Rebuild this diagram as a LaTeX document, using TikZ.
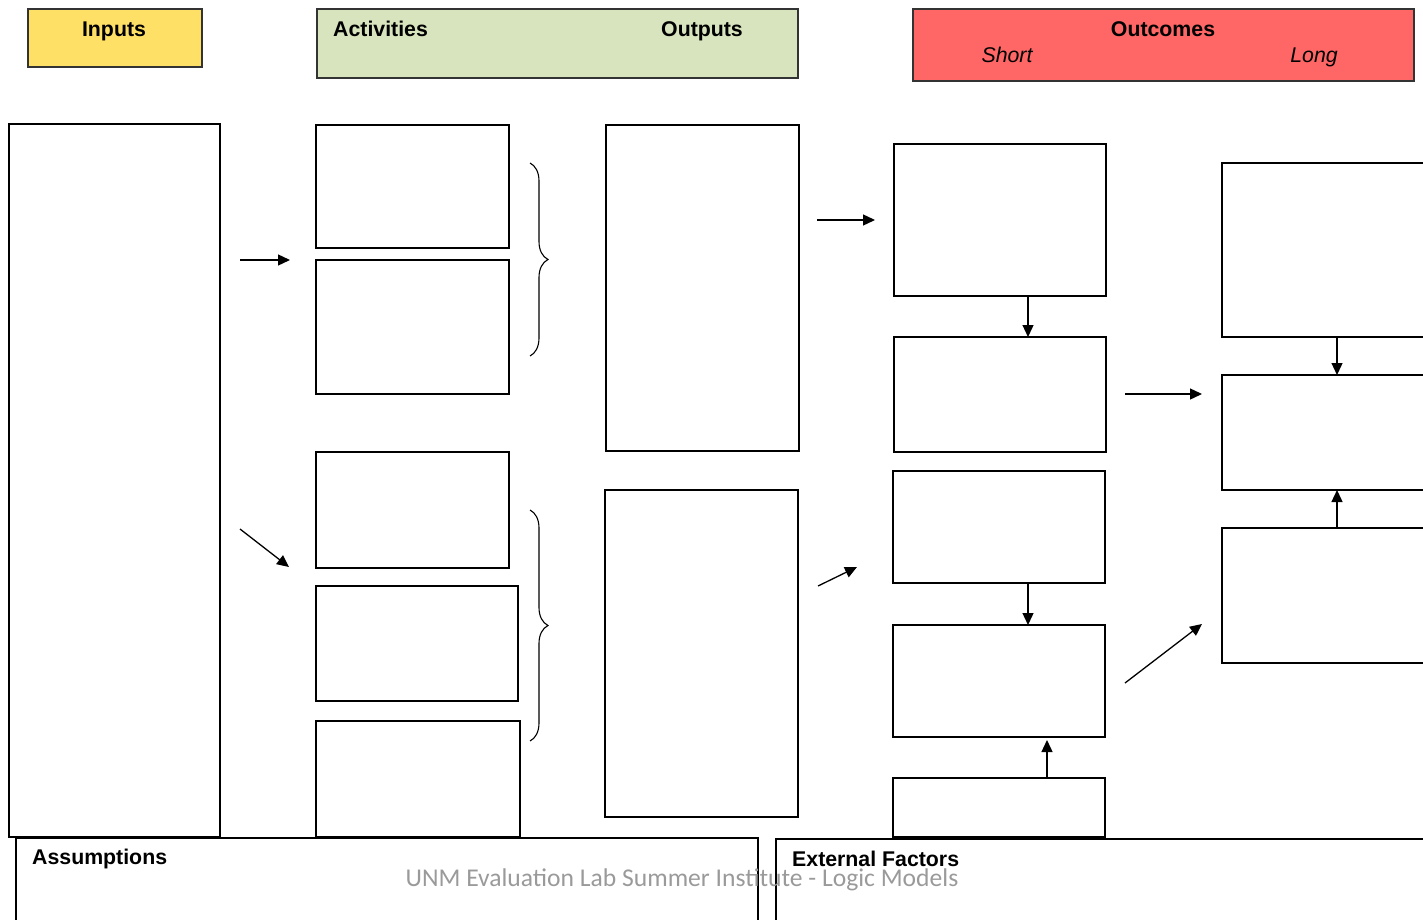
\documentclass[tikz,border=0pt]{standalone}
\usepackage{fontspec}
\setmainfont{Liberation Sans}
\newfontfamily\wmfont{Carlito}
\usetikzlibrary{decorations.pathreplacing,arrows.meta}
\definecolor{inyel}{HTML}{FFE066}
\definecolor{actgrn}{HTML}{D7E4BD}
\definecolor{outred}{HTML}{FF6666}
\definecolor{hdrline}{HTML}{333333}
\definecolor{wmgray}{HTML}{9A9A9A}
\begin{document}
\begin{tikzpicture}[x=1pt,y=-1pt,
  box/.style={draw=black, line width=1.3pt, inner sep=0pt, outer sep=0pt, anchor=north west},
  hdrbox/.style={draw=hdrline, line width=1.4pt, inner sep=0pt, outer sep=0pt, anchor=north west},
  hdr/.style={font=\fontsize{21.3}{25}\selectfont\bfseries, inner sep=0pt, anchor=base},
  sub/.style={font=\fontsize{21.3}{25}\selectfont\itshape, inner sep=0pt, anchor=base},
  arr/.style={line width=1.3pt, -{Triangle[length=12pt,width=11pt]}},
  brc/.style={line width=1.1pt, decorate, decoration={brace, amplitude=18pt, aspect=0.5}}
]
\useasboundingbox (0,0) rectangle (1423,920);
\clip (0,0) rectangle (1423,920);

% headers
\node[hdrbox, fill=inyel, minimum width=174pt, minimum height=58pt] (hin) at (28,9) {};
\node[hdrbox, fill=actgrn, minimum width=481pt, minimum height=69pt] (hact) at (317,9) {};
\node[hdrbox, fill=outred, minimum width=501pt, minimum height=72pt] (hout) at (913,9) {};
\node[hdr] (tin) at (114,37) {Inputs};
\node[hdr, anchor=base west] (tact) at (333,37) {Activities};
\node[hdr] (toutp) at (702,37) {Outputs};
\node[hdr] (toutc) at (1163,37) {Outcomes};
\node[sub] (tshort) at (1007,63) {Short};
\node[sub] (tlong) at (1314,63) {Long};

% inputs
\node[box, minimum width=211pt, minimum height=713pt] (inp) at (9,124) {};

% activities
\node[box, minimum width=193pt, minimum height=123pt] (a1) at (316,125) {};
\node[box, minimum width=193pt, minimum height=134pt] (a2) at (316,260) {};
\node[box, minimum width=193pt, minimum height=116pt] (a3) at (316,452) {};
\node[box, minimum width=202pt, minimum height=115pt] (a4) at (316,586) {};
\node[box, minimum width=204pt, minimum height=116pt] (a5) at (316,721) {};

% braces
\coordinate (b1t) at (530,163);
\coordinate (b1b) at (530,356);
\coordinate (b2t) at (530,510);
\coordinate (b2b) at (530,741);
\draw[brc] (b1t) -- (b1b);
\draw[brc] (b2t) -- (b2b);

% outputs
\node[box, minimum width=193pt, minimum height=326pt] (o1) at (606,125) {};
\node[box, minimum width=193pt, minimum height=327pt] (o2) at (605,490) {};

% short outcomes
\node[box, minimum width=212pt, minimum height=152pt] (s1) at (894,144) {};
\node[box, minimum width=212pt, minimum height=115pt] (s2) at (894,337) {};
\node[box, minimum width=212pt, minimum height=112pt] (s3) at (893,471) {};
\node[box, minimum width=212pt, minimum height=112pt] (s4) at (893,625) {};
\node[box, minimum width=212pt, minimum height=59pt] (s5) at (893,778) {};

% long outcomes
\node[box, minimum width=220pt, minimum height=174pt] (l1) at (1222,163) {};
\node[box, minimum width=220pt, minimum height=115pt] (l2) at (1222,375) {};
\node[box, minimum width=220pt, minimum height=135pt] (l3) at (1222,528) {};

% bottom boxes
\node[box, minimum width=742pt, minimum height=100pt] (ass) at (16,838) {};
\node[box, minimum width=660pt, minimum height=100pt] (ext) at (776,839) {};
\node[hdr, anchor=base west] (tass) at (32,864) {Assumptions};
\node[hdr, anchor=base west] (text) at (792,866) {External Factors};
\node[font=\wmfont\fontsize{25.6}{30}\selectfont, text=wmgray, inner sep=0pt, anchor=base] (wm) at (682,886) {UNM Evaluation Lab Summer Institute - Logic Models};

% free arrows
\coordinate (p1a) at (240,260); \coordinate (p1b) at (290,260);
\coordinate (p2a) at (240,529); \coordinate (p2b) at (289,567);
\coordinate (p3a) at (817,220); \coordinate (p3b) at (875,220);
\coordinate (p4a) at (818,586); \coordinate (p4b) at (857,567);
\coordinate (p5a) at (1125,394); \coordinate (p5b) at (1202,394);
\coordinate (p6a) at (1125,683); \coordinate (p6b) at (1202,624);
\draw[arr] (p1a) -- (p1b);
\draw[arr] (p2a) -- (p2b);
\draw[arr] (p3a) -- (p3b);
\draw[arr] (p4a) -- (p4b);
\draw[arr] (p5a) -- (p5b);
\draw[arr] (p6a) -- (p6b);

% box-to-box arrows
\draw[arr] ([xshift=28pt]s1.south) -- ([xshift=28pt]s2.north);
\draw[arr] ([xshift=29pt]s3.south) -- ([xshift=29pt]s4.north);
\draw[arr] ([xshift=48pt]s5.north) -- ([xshift=48pt,yshift=-3pt]s4.south);
\draw[arr] ([xshift=5pt]l1.south) -- ([xshift=5pt]l2.north);
\draw[arr] ([xshift=5pt]l3.north) -- ([xshift=5pt]l2.south);
\end{tikzpicture}
\end{document}
